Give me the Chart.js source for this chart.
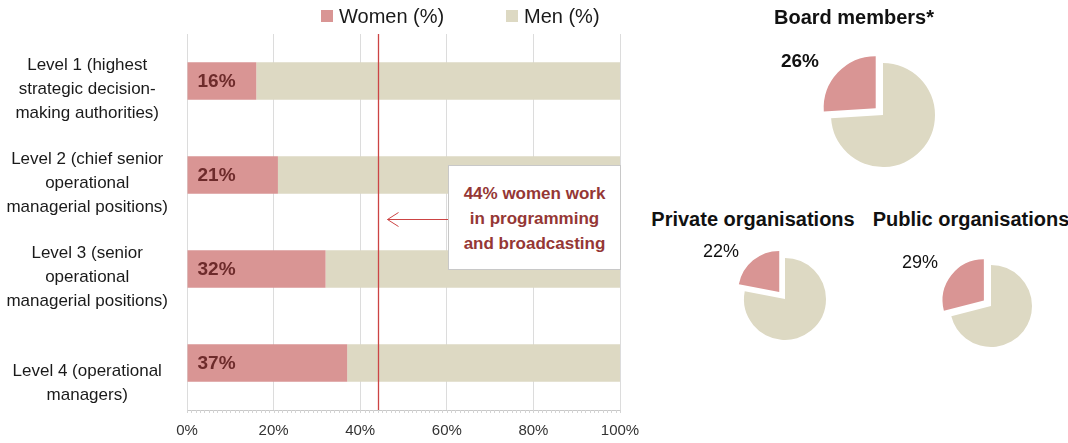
<!DOCTYPE html>
<html>
<head>
<meta charset="utf-8">
<script src="https://cdn.jsdelivr.net/npm/chart.js@4.4.1/dist/chart.umd.min.js"></script>
<style>
  body { margin: 0; background: #fff; width: 1068px; height: 443px; overflow: hidden; position: relative;
         font-family: "Liberation Sans", Arial, sans-serif; color: #1a1a1a; }
  .abs { position: absolute; }
  #barWrap { left: 0; top: 0; width: 640px; height: 443px; }
  .legItem { top: 6px; font-size: 20px; line-height: 20px; white-space: nowrap; }
  .legItem span { display: inline-block; width: 12px; height: 12px; margin-right: 6px; vertical-align: 1px; }
  #note { left: 448px; top: 165px; width: 171px; height: 103px; border: 1px solid #c8c8c8; background: #fff;
          color: #953735; font-weight: bold; font-size: 17px; line-height: 25px; text-align: center; }
  #note div { padding-top: 15px; }
  .pieTitle { font-weight: bold; font-size: 20px; white-space: nowrap; transform: translateX(-50%); color: #111; }
</style>
</head>
<body>
<div id="barWrap" class="abs"><canvas id="barChart"></canvas></div>
<div class="abs legItem" style="left:321px"><span style="background:#d99594"></span>Women (%)</div>
<div class="abs legItem" style="left:506px"><span style="background:#ddd9c3"></span>Men (%)</div>
<div id="note" class="abs"><div>44% women work<br>in programming<br>and broadcasting</div></div>

<div class="abs pieTitle" style="left:854px;top:6px">Board members*</div>
<div class="abs pieTitle" style="left:753px;top:208px">Private organisations</div>
<div class="abs pieTitle" style="left:971px;top:208px">Public organisations</div>
<div class="abs" id="pw0"><canvas id="pie0"></canvas></div>
<div class="abs" id="pw1"><canvas id="pie1"></canvas></div>
<div class="abs" id="pw2"><canvas id="pie2"></canvas></div>

<script>
// data
const levels = [
  ['Level 1 (highest', 'strategic decision-', 'making authorities)'],
  ['Level 2 (chief senior', 'operational', 'managerial positions)'],
  ['Level 3 (senior', 'operational', 'managerial positions)'],
  ['', 'Level 4 (operational', 'managers)']   // blank first line: label sits low like the others
];
const women = [16, 21, 32, 37];
const men = [84, 79, 68, 63];
const sectorWomen = 44;   // women in programming and broadcasting
const xTicks = [0, 20, 40, 60, 80, 100];

const pieNames = ['Board members*', 'Private organisations', 'Public organisations'];
const pieWomen = [26, 22, 29];
const pieMen = [74, 78, 71];

const WOMEN_COL = '#d99594';
const MEN_COL = '#ddd9c3';
const FONT = '"Liberation Sans", Arial, sans-serif';

// bar chart: labels in bars, 44% line + arrow, minor ticks
const barExtras = {
  id: 'barExtras',
  afterDatasetsDraw(chart) {
    const c = chart.ctx;
    const xs = chart.scales.x, ys = chart.scales.y;
    const area = chart.chartArea;
    const meta = chart.getDatasetMeta(0);
    c.save();

    // minor ticks under the axis, every 1%
    c.strokeStyle = '#d4d4d4';
    c.lineWidth = 1;
    c.beginPath();
    for (let v = 0; v <= 100; v++) {
      const px = Math.round(xs.getPixelForValue(v)) + 0.5;
      c.moveTo(px, area.bottom);
      c.lineTo(px, area.bottom + 3);
    }
    c.stroke();

    c.font = 'bold 19px ' + FONT;
    c.fillStyle = '#6d2b2b';
    c.textBaseline = 'middle';
    meta.data.forEach((bar, i) => {
      c.fillText(women[i] + '%', bar.base + 10, bar.y + 1);
    });

    // 44% line
    const lx = Math.round(xs.getPixelForValue(sectorWomen)) + 0.5;
    c.strokeStyle = '#cc4444';
    c.lineWidth = 1.3;
    c.beginPath();
    c.moveTo(lx, area.top);
    c.lineTo(lx, area.bottom);
    c.stroke();

    // arrow from the note box to the line
    const ay = Math.round(ys.getPixelForValue(1.5)) + 0.5 - 3;
    const tip = lx + 9;
    c.lineWidth = 1;
    c.beginPath();
    c.moveTo(448, ay);
    c.lineTo(tip, ay);
    c.moveTo(tip + 11, ay - 7);
    c.lineTo(tip, ay);
    c.lineTo(tip + 11, ay + 7);
    c.stroke();
    c.restore();
  }
};

new Chart(document.getElementById('barChart'), {
  type: 'bar',
  data: {
    labels: levels,
    datasets: [
      { label: 'Women (%)', data: women, backgroundColor: WOMEN_COL },
      { label: 'Men (%)', data: men, backgroundColor: MEN_COL }
    ]
  },
  options: {
    indexAxis: 'y',
    responsive: true,
    maintainAspectRatio: false,
    animation: false,
    layout: { padding: { top: 34, right: 20, bottom: 2, left: 0 } },
    datasets: { bar: { categoryPercentage: 1, barPercentage: 0.4 } },
    scales: {
      x: {
        stacked: true, min: 0, max: 100,
        afterBuildTicks: s => { s.ticks = xTicks.map(v => ({ value: v })); },
        afterFit: s => { s.paddingLeft = 0; s.paddingRight = 0; s.height = 31; },
        grid: { color: '#dcdcdc', drawTicks: false },
        border: { display: true, color: '#c8c8c8' },
        ticks: { padding: 12, color: '#333', font: { family: FONT, size: 15 }, callback: v => v + '%' }
      },
      y: {
        stacked: true,
        afterFit: s => { s.width = 187; s.paddingTop = 0; s.paddingBottom = 0; },
        grid: { display: false, drawTicks: false },
        border: { display: false },
        ticks: { crossAlign: 'center', padding: 19, labelOffset: 8, color: '#1a1a1a',
                 font: { family: FONT, size: 17, lineHeight: 1.41 } }
      }
    },
    plugins: { legend: { display: false }, tooltip: { enabled: false } }
  },
  plugins: [barExtras]
});

// pies (Chart.js draws an arc's offset at roughly a quarter of the option value)
const pieLayout = [
  { cx: 883, cy: 115, r: 52, off: 40, lx: -83, ly: -53, bold: true },
  { cx: 785, cy: 299, r: 41, off: 36, lx: -64, ly: -47, bold: false },
  { cx: 991, cy: 306, r: 41, off: 36, lx: -71, ly: -43, bold: false }
];
const W = 240, H = 220;

pieNames.forEach((name, i) => {
  const L = pieLayout[i];
  const wrap = document.getElementById('pw' + i);
  wrap.style.left = (L.cx - W / 2) + 'px';
  wrap.style.top = (L.cy - H / 2) + 'px';
  wrap.style.width = W + 'px';
  wrap.style.height = H + 'px';
  const pieLabel = {
    id: 'pieLabel' + i,
    afterDatasetsDraw(chart) {
      const arc = chart.getDatasetMeta(0).data[0];
      const c = chart.ctx;
      c.save();
      c.font = (L.bold ? 'bold 19px ' : '18px ') + FONT;
      c.fillStyle = '#111';
      c.textAlign = 'center';
      c.textBaseline = 'middle';
      c.fillText(pieWomen[i] + '%', arc.x + L.lx, arc.y + L.ly);
      c.restore();
    }
  };
  new Chart(document.getElementById('pie' + i), {
    type: 'pie',
    data: {
      labels: ['Men (%)', 'Women (%)'],
      datasets: [{ data: [pieMen[i], pieWomen[i]], backgroundColor: [MEN_COL, WOMEN_COL],
                   borderWidth: 0, offset: [0, L.off] }]
    },
    options: {
      responsive: true, maintainAspectRatio: false, animation: false,
      radius: L.r,
      plugins: { legend: { display: false }, tooltip: { enabled: false } }
    },
    plugins: [pieLabel]
  });
});
</script>
</body>
</html>
